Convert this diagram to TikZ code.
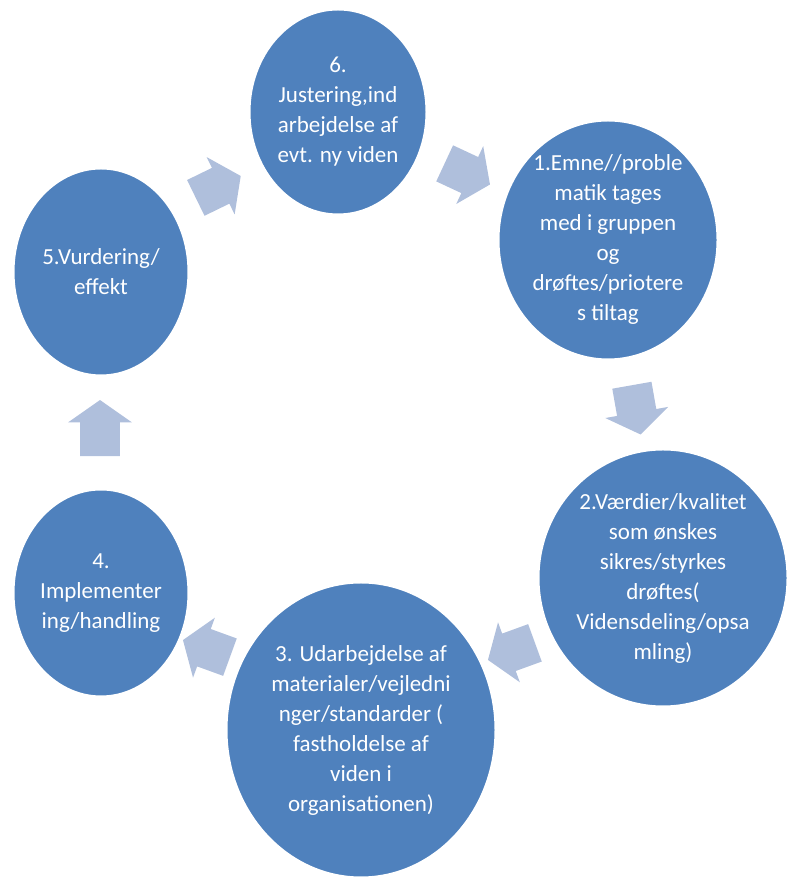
\documentclass[tikz,border=0pt]{standalone}
\usepackage{fontspec}
\setmainfont{Carlito}
\usepackage{xcolor}
\usetikzlibrary{shapes.geometric, shapes.arrows}

\definecolor{ringblue}{RGB}{79,129,189}
\definecolor{arrowblue}{RGB}{175,191,220}

\begin{document}
\begin{tikzpicture}[x=0.5pt, y=0.5pt,
  disc/.style={ellipse, fill=ringblue, draw=white, line width=1.5pt, inner sep=0pt},
  txt/.style={text=white, align=center, inner sep=0pt, font=\fontsize{11.5}{15}\selectfont},
  arr/.style={single arrow, fill=arrowblue, inner xsep=4pt, inner ysep=9.75pt,
    minimum height=25pt, single arrow head extend=6pt, single arrow tip angle=110}
]
\useasboundingbox (0,0) rectangle (790,877);

% arrows between the steps
\node[arr, rotate=-25] (a61) at (461,706) {};
\node[arr, rotate=-80] (a12) at (635,474) {};
\node[arr, rotate=200] (a23) at (518,228) {};
\node[arr, rotate=160] (a34) at (213,226) {};
\node[arr, rotate=90, minimum height=28pt] (a45) at (100,442) {};
\node[arr, rotate=26] (a56) at (212,687) {};

% the six steps
\node[disc, minimum width=89pt, minimum height=103pt] (c6) at (338,765) {};
\node[disc, minimum width=110pt, minimum height=120pt] (c1) at (608,637) {};
\node[disc, minimum width=125pt, minimum height=129pt] (c2) at (663,299) {};
\node[disc, minimum width=135pt, minimum height=148pt] (c3) at (361,147) {};
\node[disc, minimum width=88pt, minimum height=104pt] (c4) at (101,284) {};
\node[disc, minimum width=88pt, minimum height=104pt] (c5) at (101,605) {};

\node[txt] (t6) at (c6) {6.\\Justering,ind\\arbejdelse af\\evt. ny viden};
\node[txt] (t1) at (c1) {1.Emne//proble\\matik tages\\med i gruppen\\og\\drøftes/priotere\\s tiltag};
\node[txt] (t2) at (c2) {2.Værdier/kvalitet\\som ønskes\\sikres/styrkes\\drøftes(\\Vidensdeling/opsa\\mling)};
\node[txt] (t3) at (c3) {3. Udarbejdelse af\\materialer/vejledni\\nger/standarder (\\fastholdelse af\\viden i\\organisationen)};
\node[txt] (t4) at (c4) {4.\\Implementer\\ing/handling};
\node[txt] (t5) at (c5) {5.Vurdering/\\effekt};
\end{tikzpicture}
\end{document}
